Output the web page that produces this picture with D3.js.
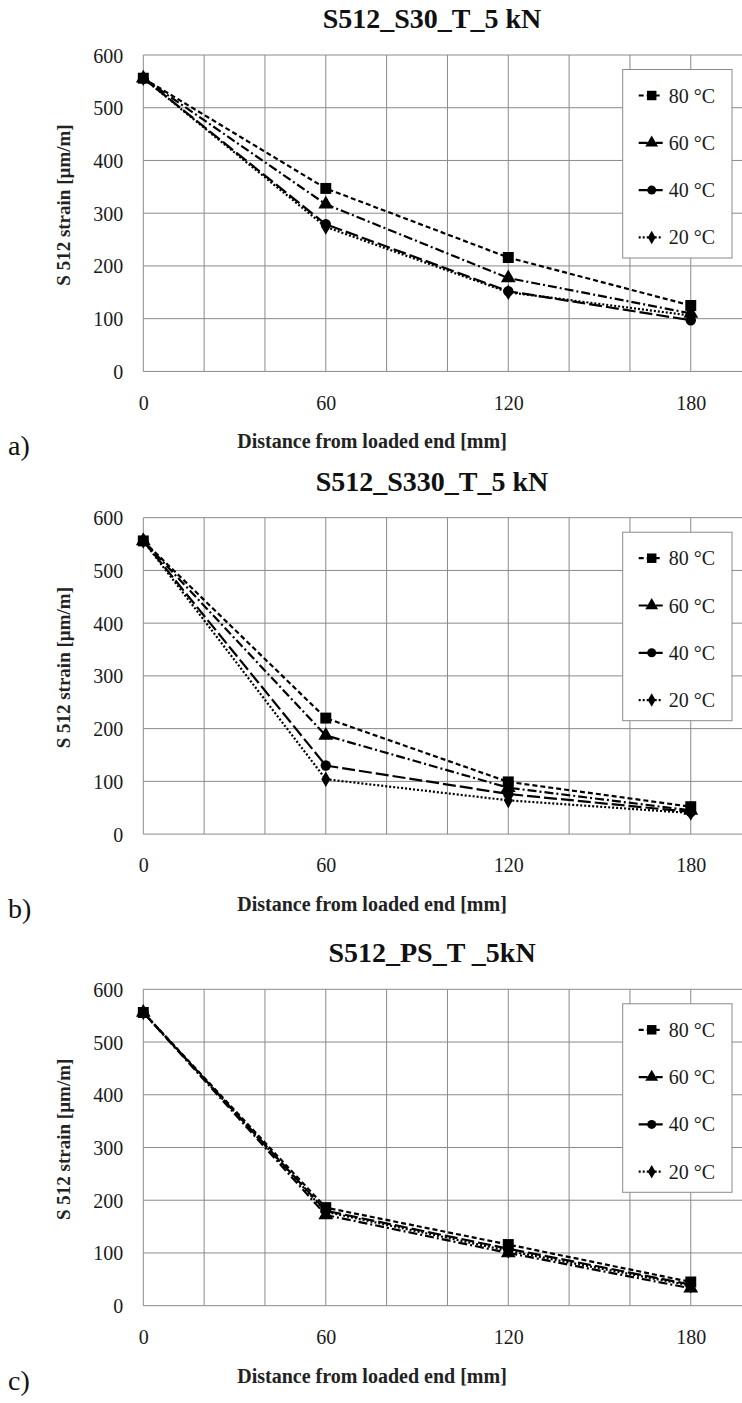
<!DOCTYPE html>
<html><head><meta charset="utf-8">
<script src="https://cdn.jsdelivr.net/npm/d3@7"></script>
<style>
html,body{margin:0;padding:0;background:#fff;}
svg{display:block;font-family:"Liberation Serif","Times New Roman",serif;}
</style></head>
<body>
<svg id="chart" width="742" height="1403"></svg>
<script>
// ---- data ----
const distances = [0, 60, 120, 180];
const seriesNames = ["80 °C", "60 °C", "40 °C", "20 °C"];
const xTicks = [0, 60, 120, 180];
const yTicks = [0, 100, 200, 300, 400, 500, 600];
const panelTitles = ["S512_S30_T_5 kN", "S512_S330_T_5 kN", "S512_PS_T _5kN"];
const panelLetters = ["a)", "b)", "c)"];

const a80 = [556, 347, 216, 125];
const a60 = [556, 317, 177, 110];
const a40 = [556, 279, 152, 97];
const a20 = [556, 274, 150, 106];

const b80 = [556, 220, 99, 52];
const b60 = [556, 187, 88, 45];
const b40 = [556, 130, 76, 42];
const b20 = [556, 104, 64, 40];

const c80 = [556, 186, 116, 45];
const c60 = [556, 172, 100, 33];
const c40 = [556, 180, 108, 40];
const c20 = [556, 178, 104, 38];

const panelData = [[a80, a60, a40, a20], [b80, b60, b40, b20], [c80, c60, c40, c20]];

// ---- styles ----
const dashes = ["5,3", "9,3,2,3", "13,4", "2,2"];
const symbols = [d3.symbolSquare, d3.symbolTriangle, d3.symbolCircle, d3.symbolDiamond];
const symSizes = [120, 95, 85, 70];
const gridColor = "#8a8a8a";
const serif = "'Liberation Serif', 'Times New Roman', serif";

const svg = d3.select("#chart");
const panelTops = [55, 517.7, 989.3];
const plotH = 316.4;
const plotLeft = 143.3;
const plotRight = 751.6; // x=200, beyond visible width

panelTops.forEach((top, pi) => {
  const x = d3.scaleLinear().domain([0, 200]).range([plotLeft, plotRight]);
  const y = d3.scaleLinear().domain([0, 600]).range([top + plotH, top]);
  const g = svg.append("g");

  // grid
  g.append("g").selectAll("line").data(d3.range(0, 201, 20)).join("line")
    .attr("x1", d => x(d)).attr("x2", d => x(d))
    .attr("y1", y(0)).attr("y2", y(600))
    .attr("stroke", gridColor).attr("stroke-width", 1);
  g.append("g").selectAll("line").data(yTicks).join("line")
    .attr("x1", x(0)).attr("x2", x(200))
    .attr("y1", d => y(d)).attr("y2", d => y(d))
    .attr("stroke", gridColor).attr("stroke-width", 1);

  // axes labels via d3 axes
  const yAxis = g.append("g").attr("transform", `translate(${x(0)},0)`)
    .call(d3.axisLeft(y).tickValues(yTicks).tickSize(0).tickPadding(20));
  yAxis.attr("font-family", null).attr("font-size", null);
  yAxis.select(".domain").remove();
  yAxis.selectAll("text").style("font-family", serif)
    .attr("font-size", 20).attr("fill", "#1a1a1a").attr("dy", "0.35em");

  const xAxis = g.append("g").attr("transform", `translate(0,${y(0)})`)
    .call(d3.axisBottom(x).tickValues(xTicks).tickSize(0).tickPadding(24));
  xAxis.attr("font-family", null).attr("font-size", null);
  xAxis.select(".domain").remove();
  xAxis.selectAll("text").style("font-family", serif)
    .attr("font-size", 20).attr("fill", "#1a1a1a");

  // series
  const line = d3.line().x((d, i) => x(distances[i])).y(d => y(d));
  const order = [3, 2, 1, 0];
  order.forEach(si => {
    const vals = panelData[pi][si];
    g.append("path").datum(vals).attr("d", line)
      .attr("fill", "none").attr("stroke", "#000").attr("stroke-width", 2.2)
      .attr("stroke-dasharray", dashes[si]);
  });
  order.forEach(si => {
    const vals = panelData[pi][si];
    g.append("g").selectAll("path").data(vals).join("path")
      .attr("transform", (d, i) => `translate(${x(distances[i])},${y(d)})`)
      .attr("d", d3.symbol().type(symbols[si]).size(symSizes[si]))
      .attr("fill", "#000");
  });

  // legend
  const lx = 622.7, ly = top + 14.5, lw = 109.3, lh = 188.5;
  const lg = g.append("g");
  lg.append("rect").attr("x", lx).attr("y", ly).attr("width", lw).attr("height", lh)
    .attr("fill", "#fff").attr("stroke", gridColor).attr("stroke-width", 1);
  seriesNames.forEach((name, si) => {
    const cy = ly + 26 + si * 47.3;
    lg.append("line").attr("x1", lx + 16).attr("x2", lx + 40).attr("y1", cy).attr("y2", cy)
      .attr("stroke", "#000").attr("stroke-width", 2.2).attr("stroke-dasharray", dashes[si]);
    lg.append("path").attr("transform", `translate(${lx + 29},${cy})`)
      .attr("d", d3.symbol().type(symbols[si]).size(symSizes[si] * 0.75)).attr("fill", "#000");
    lg.append("text").attr("x", lx + 46).attr("y", cy).attr("dy", "0.35em")
      .style("font-family", serif)
      .attr("font-size", 20).attr("fill", "#1a1a1a").text(name);
  });

  // title
  svg.append("text").attr("x", 432).attr("y", top - 27)
    .attr("text-anchor", "middle").attr("font-weight", "bold").attr("font-size", 28)
    .style("font-family", serif)
    .attr("fill", "#111").text(panelTitles[pi]);

  // y label
  svg.append("text").attr("transform", `translate(70,${top + 150}) rotate(-90)`)
    .attr("text-anchor", "middle").attr("font-weight", "bold").attr("font-size", 19)
    .style("font-family", serif)
    .attr("fill", "#222").text("S 512 strain [µm/m]");

  // x label
  svg.append("text").attr("x", 372).attr("y", top + plotH + 77)
    .attr("text-anchor", "middle").attr("font-weight", "bold").attr("font-size", 20)
    .style("font-family", serif)
    .attr("fill", "#222").text("Distance from loaded end [mm]");

  // panel letter
  svg.append("text").attr("x", 8).attr("y", top + plotH + 84)
    .style("font-family", serif)
    .attr("font-size", 28).attr("fill", "#111").text(panelLetters[pi]);
});
</script>
</body></html>
